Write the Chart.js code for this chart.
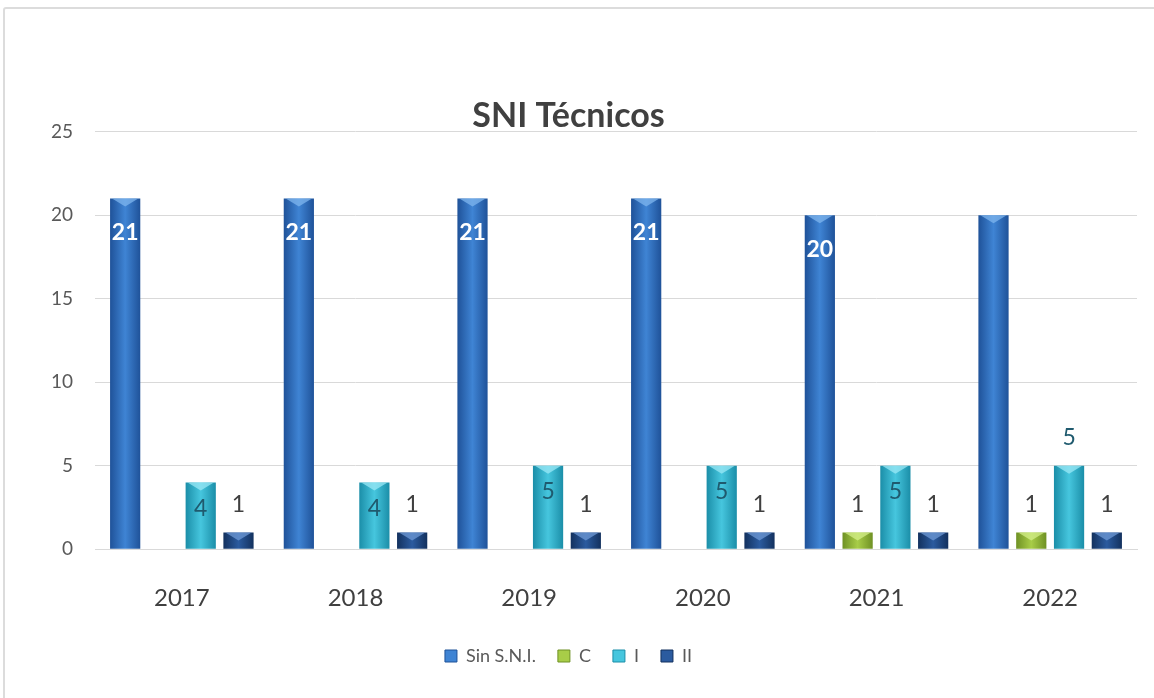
<!DOCTYPE html>
<html><head><meta charset="utf-8">
<script src="https://cdn.jsdelivr.net/npm/chart.js@4.4.1/dist/chart.umd.min.js"></script>
<style>
html,body{margin:0;padding:0;background:#fff;}
#wrap{position:absolute;left:0;top:0;width:1154px;height:698px;}
#frame{position:absolute;left:3px;top:7px;width:1160px;height:700px;border:2px solid #dcdcdc;border-radius:3px;box-sizing:border-box;}
canvas{position:absolute;left:0;top:0;}
</style></head>
<body><div id="wrap"><div id="frame"></div><canvas id="c" width="1154" height="698"></canvas></div>
<script>
const categories = ['2017','2018','2019','2020','2021','2022'];
const sinSNI = [21,21,21,21,20,20];
const nivelC = [0,0,0,0,1,1];
const nivelI = [4,4,5,5,5,5];
const nivelII = [1,1,1,1,1,1];
const seriesNames = ['Sin S.N.I.','C','I','II'];
const yTicks = [0,5,10,15,20,25];

const baseColors = [
  ['#1f5299','#3f84d4','#7fb6ee'],
  ['#6f9124','#a8cd48','#d4ef8a'],
  ['#1b8ea8','#46c6de','#9be8f5'],
  ['#13315e','#2b5b9f','#6f9ad6']
];

const gradPlugin = {
  id:'grad',
  beforeDatasetsDraw(chart){
    const ctx = chart.ctx;
    chart.data.datasets.forEach((ds, di)=>{
      chart.getDatasetMeta(di).data.forEach(el=>{
        const w = el.width;
        if(!isFinite(el.x) || !w) return;
        const g = ctx.createLinearGradient(el.x - w/2, 0, el.x + w/2, 0);
        g.addColorStop(0, baseColors[di][0]);
        g.addColorStop(0.5, baseColors[di][1]);
        g.addColorStop(1, baseColors[di][0]);
        el.options = Object.assign({}, el.options, {backgroundColor: g});
      });
    });
  },
  afterDatasetsDraw(chart){
    const ctx = chart.ctx;
    ctx.save();
    chart.data.datasets.forEach((ds, di)=>{
      chart.getDatasetMeta(di).data.forEach((el,i)=>{
        const w = el.width;
        if(!isFinite(el.x) || !w || !ds.data[i]) return;
        const l = el.x - w/2, r = el.x + w/2, t = el.y;
        const d = Math.min(8, (el.base - el.y) / 2);
        ctx.fillStyle = baseColors[di][2];
        ctx.globalAlpha = 0.75;
        ctx.beginPath();
        ctx.moveTo(l + 2, t);
        ctx.lineTo(r - 2, t);
        ctx.lineTo(el.x, t + d);
        ctx.closePath();
        ctx.fill();
      });
    });
    ctx.restore();
  }
};

const labelMode = [
  ['in','in','in','in','in','none'],
  ['out','out','out','out','out','out'],
  ['in','in','in','in','in','out'],
  ['out','out','out','out','out','out']
];
const labelStyle = [
  {inColor:'#ffffff', font:'bold 23px Lato', inOff:34},
  {outColor:'#404040', font:'23px Lato'},
  {inColor:'#1f5a6e', outColor:'#1f5a6e', font:'23px Lato', inOff:26},
  {outColor:'#404040', font:'23px Lato'}
];
const labelPlugin = {
  id:'labels',
  afterDatasetsDraw(chart){
    const ctx = chart.ctx;
    ctx.save();
    ctx.textAlign='center'; ctx.textBaseline='middle';
    chart.data.datasets.forEach((ds, di)=>{
      const meta = chart.getDatasetMeta(di);
      meta.data.forEach((el, i)=>{
        const v = ds.data[i];
        const mode = labelMode[di][i];
        if(!v || mode==='none') return;
        const st = labelStyle[di];
        ctx.font = st.font;
        if(mode==='in'){ ctx.fillStyle = st.inColor; ctx.fillText(String(v), el.x, el.y + st.inOff); }
        else { ctx.fillStyle = st.outColor; ctx.fillText(String(v), el.x, el.y - 28); }
      });
    });
    ctx.restore();
  }
};

const seriesData = [sinSNI, nivelC, nivelI, nivelII];
new Chart(document.getElementById('c'), {
  type:'bar',
  data:{
    labels: categories,
    datasets: seriesNames.map((n,i)=>({
      label:n,
      data:seriesData[i],
      backgroundColor:baseColors[i][1],
      borderWidth:0,
      categoryPercentage:0.87,
      barPercentage:0.8
    }))
  },
  options:{
    responsive:false,
    animation:false,
    layout:{padding:{left:0,right:17,top:0,bottom:23}},
    plugins:{
      title:{display:true,text:'SNI Técnicos',color:'#404040',font:{family:'Lato',size:34,weight:'bold'},padding:{top:96,bottom:-5}},
      legend:{position:'bottom',labels:{boxWidth:12,boxHeight:12,color:'#595959',font:{family:'Lato',size:18},padding:22,
        generateLabels(chart){
          return chart.data.datasets.map((d,i)=>({text:d.label,fillStyle:baseColors[i][1],strokeStyle:baseColors[i][0],lineWidth:1,datasetIndex:i,fontColor:'#595959'}));
        }}},
      tooltip:{enabled:false}
    },
    scales:{
      x:{grid:{display:false},border:{color:'#d9d9d9'},
         ticks:{color:'#404040',font:{family:'Lato',size:24},padding:27},
         afterFit(s){s.height -= 15;}},
      y:{min:0,max:25,afterBuildTicks(s){s.ticks=yTicks.map(v=>({value:v}));},
         grid:{color:'#d9d9d9',drawTicks:false},border:{display:false},
         ticks:{color:'#595959',font:{family:'Lato',size:19},padding:22},
         afterFit(s){s.width=95;}}
    }
  },
  plugins:[gradPlugin, labelPlugin]
});
</script></body></html>
